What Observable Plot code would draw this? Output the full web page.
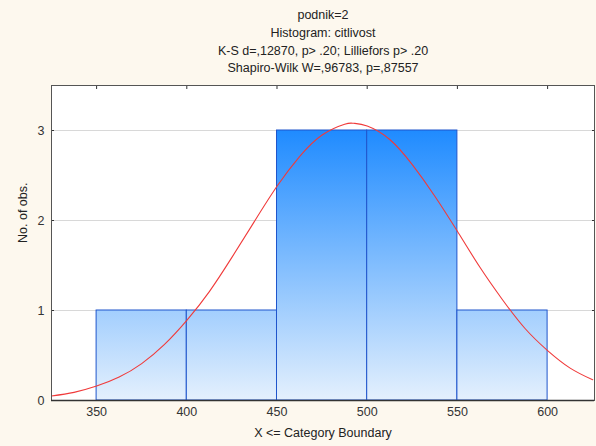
<!DOCTYPE html>
<html>
<head>
<meta charset="utf-8">
<script src="https://cdn.jsdelivr.net/npm/d3@7"></script>
<script src="https://cdn.jsdelivr.net/npm/@observablehq/plot@0.6"></script>
<style>
  html, body { margin: 0; padding: 0; background: #fdf8ee; }
  #chart svg { display: block; }
</style>
</head>
<body>
<div id="chart"></div>
<script>
// Histogram bins (lower, upper) and counts
const binLower = [350, 400, 450, 500, 550];
const binUpper = [400, 450, 500, 550, 600];
const counts   = [1, 1, 3, 3, 1];

// Fitted normal curve
const curveX = [325, 337.5, 350, 362.5, 375, 387.5, 400, 412.5, 425, 437.5, 450, 462.5, 475, 487.5, 492.5, 500, 512.5, 525, 537.5, 550, 562.5, 575, 587.5, 600, 612.5, 625];
const curveY = [0.05, 0.09, 0.16, 0.26, 0.41, 0.62, 0.89, 1.21, 1.59, 1.99, 2.38, 2.71, 2.95, 3.07, 3.08, 3.05, 2.90, 2.62, 2.27, 1.88, 1.48, 1.12, 0.80, 0.555, 0.36, 0.23];

const xTicks = [350, 400, 450, 500, 550, 600];
const yTicks = [0, 1, 2, 3];

const titleLines = [
  "podnik=2",
  "Histogram: citlivost",
  "K-S d=,12870, p> .20; Lilliefors p> .20",
  "Shapiro-Wilk W=,96783, p=,87557"
];

const bins = binLower.map((x1, i) => ({x1, x2: binUpper[i], y: counts[i]}));
const curve = curveX.map((x, i) => ({x, y: curveY[i]}));

const font = "'Liberation Sans', Arial, sans-serif";

const plot = Plot.plot({
  width: 596,
  height: 446,
  marginLeft: 51,
  marginRight: 2,
  marginTop: 85,
  marginBottom: 46,
  style: {fontFamily: font, fontSize: "12px", background: "transparent", color: "#333"},
  x: {domain: [325, 626], label: null},
  y: {domain: [0, 3.5], label: null},
  marks: [
    Plot.frame({fill: "white", stroke: "none"}),
    Plot.gridY(yTicks.filter(d => d > 0), {stroke: "#d8d8d8", strokeOpacity: 1}),
    Plot.rectY(bins, {x1: "x1", x2: "x2", y: "y", fill: "url(#barGrad)", stroke: "#1f55cc", strokeWidth: 1, inset: 0}),
    Plot.line(curve, {x: "x", y: "y", stroke: "#f03a3a", strokeWidth: 1.1, curve: "natural"}),
    Plot.axisX({ticks: xTicks, tickSize: 0, tickPadding: 7, fontSize: 12.5, fill: "#333", label: null, tickFormat: "d"}),
    Plot.axisY({ticks: yTicks, tickSize: 0, tickPadding: 7, fontSize: 12.5, fill: "#333", label: null, tickFormat: "d"}),
    Plot.axisX({anchor: "top", ticks: xTicks, tickSize: -3, text: null, label: null, stroke: "#333"}),
    Plot.axisY({anchor: "left", ticks: yTicks, tickSize: -3, text: null, label: null, stroke: "#333"}),
    Plot.axisY({anchor: "right", ticks: yTicks, tickSize: -3, text: null, label: null, stroke: "#333"}),
    Plot.ruleX([325], {stroke: "#777", strokeWidth: 1}),
    Plot.frame({stroke: "#555", strokeWidth: 1}),
    Plot.ruleY([0], {stroke: "#333", strokeWidth: 1.5}),
    ...titleLines.map((t, i) => Plot.text([t], {frameAnchor: "top", dy: -75 + i * 17.7, fontSize: 12.5, fill: "#222"})),
    Plot.text(["X <= Category Boundary"], {frameAnchor: "bottom", dy: 36, fontSize: 12.5, fill: "#222"}),
    Plot.text(["No. of obs."], {frameAnchor: "left", dx: -29, rotate: -90, fontSize: 12.5, fill: "#222"})
  ]
});

// Gradient for bars, anchored to the y scale (dark at 3, light at 0)
const ys = plot.scale("y");
const svg = d3.select(plot);
const defs = svg.insert("defs", ":first-child");
const g = defs.append("linearGradient")
  .attr("id", "barGrad")
  .attr("gradientUnits", "userSpaceOnUse")
  .attr("x1", 0).attr("x2", 0)
  .attr("y1", ys.apply(3)).attr("y2", ys.apply(0));
g.append("stop").attr("offset", "0%").attr("stop-color", "#1f8bff");
g.append("stop").attr("offset", "100%").attr("stop-color", "#e4f0fd");

document.getElementById("chart").appendChild(plot);
</script>
</body>
</html>
